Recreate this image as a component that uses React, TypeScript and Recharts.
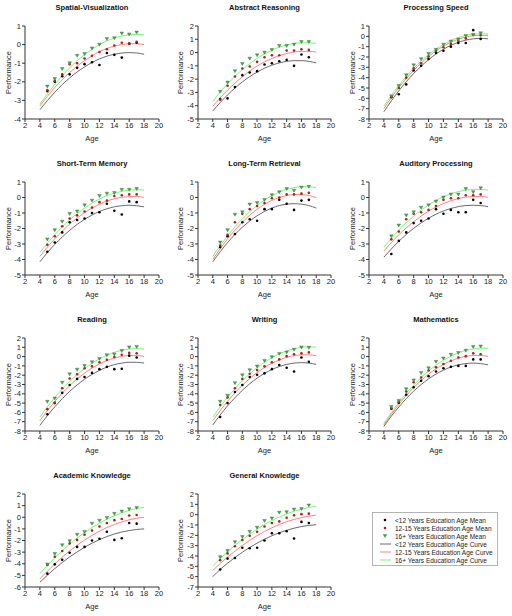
import { ComposedChart, Line, Scatter, XAxis, YAxis } from 'recharts';

// ages at which group means were measured, and where the fitted curves are drawn
const ages = [5, 6, 7, 8, 9, 10, 11, 12, 13, 14, 15, 16, 17];
const curveAges = [4, 5, 6, 7, 8, 9, 10, 11, 12, 13, 14, 15, 16, 17, 18];
const xTicks = [2, 4, 6, 8, 10, 12, 14, 16, 18, 20];

// Spatial-Visualization
const spatialLow = [-2.5, -2.0, -1.7, -1.6, -1.25, -1.05, -0.95, -1.1, -0.45, -0.55, -0.7, 0.05, 0.1];
const spatialMid = [-2.45, -1.95, -1.6, -1.05, -1.0, -0.75, -0.6, -0.4, -0.25, -0.05, 0.1, 0.05, 0.15];
const spatialHigh = [-2.25, -1.85, -1.3, -1.0, -0.6, -0.5, -0.2, 0.0, 0.3, 0.35, 0.6, 0.55, 0.65];
const spatialLowFit = [-3.5, -3.01, -2.56, -2.15, -1.79, -1.47, -1.2, -0.96, -0.77, -0.62, -0.52, -0.45, -0.43, -0.45, -0.52];
const spatialMidFit = [-3.3, -2.79, -2.31, -1.88, -1.5, -1.16, -0.86, -0.6, -0.38, -0.21, -0.08, 0.0, 0.045, 0.045, 0.0];
const spatialHighFit = [-3.2, -2.65, -2.14, -1.67, -1.25, -0.87, -0.54, -0.25, 0.0, 0.2, 0.35, 0.46, 0.53, 0.55, 0.53];

// Abstract Reasoning
const abstractLow = [-3.5, -3.45, -2.6, -1.7, -1.5, -1.4, -0.9, -0.8, -0.65, -0.55, -1.0, -0.15, -0.35];
const abstractMid = [-3.55, -2.5, -1.8, -1.2, -1.05, -0.7, -0.35, -0.2, -0.2, 0.15, 0.15, 0.25, 0.2];
const abstractHigh = [-2.95, -2.25, -1.4, -0.85, -0.45, -0.2, 0.0, 0.2, 0.5, 0.5, 0.6, 0.8, 0.8];
const abstractLowFit = [-4.4, -3.76, -3.19, -2.67, -2.21, -1.81, -1.47, -1.18, -0.95, -0.78, -0.66, -0.61, -0.61, -0.66, -0.78];
const abstractMidFit = [-4.05, -3.41, -2.83, -2.3, -1.82, -1.39, -1.02, -0.7, -0.44, -0.23, -0.07, 0.04, 0.09, 0.09, 0.04];
const abstractHighFit = [-3.7, -2.97, -2.35, -1.79, -1.28, -0.83, -0.44, -0.1, 0.18, 0.41, 0.57, 0.69, 0.74, 0.74, 0.69];

// Processing Speed
const speedLow = [-5.9, -5.6, -4.65, -3.3, -2.85, -2.2, -1.6, -1.4, -1.0, -0.65, -0.65, 0.6, -0.25];
const speedMid = [-5.85, -5.0, -4.0, -3.1, -2.6, -1.95, -1.4, -1.05, -0.75, -0.45, -0.2, 0.15, 0.1];
const speedHigh = [-5.8, -4.8, -3.75, -2.8, -2.2, -1.7, -1.3, -0.8, -0.5, -0.3, 0.05, 0.15, 0.3];
const speedLowFit = [-7.3, -6.25, -5.28, -4.4, -3.6, -2.89, -2.26, -1.71, -1.25, -0.87, -0.58, -0.37, -0.24, -0.2, -0.24];
const speedMidFit = [-7.0, -5.95, -4.98, -4.1, -3.3, -2.59, -1.96, -1.41, -0.95, -0.57, -0.28, -0.07, 0.06, 0.1, 0.06];
const speedHighFit = [-6.75, -5.71, -4.76, -3.89, -3.1, -2.4, -1.78, -1.24, -0.79, -0.41, -0.12, 0.08, 0.21, 0.25, 0.21];

// Short-Term Memory
const shortLow = [-3.5, -2.9, -2.25, -1.6, -1.45, -1.35, -1.0, -0.95, -0.4, -0.85, -1.1, -0.25, -0.3];
const shortMid = [-3.05, -2.5, -1.85, -1.35, -1.15, -0.9, -0.65, -0.3, -0.2, 0.1, 0.15, 0.2, 0.2];
const shortHigh = [-2.7, -2.1, -1.55, -1.05, -0.9, -0.5, -0.2, 0.1, 0.25, 0.3, 0.5, 0.5, 0.55];
const shortLowFit = [-4.15, -3.56, -3.03, -2.55, -2.12, -1.74, -1.41, -1.13, -0.9, -0.73, -0.6, -0.53, -0.5, -0.53, -0.6];
const shortMidFit = [-3.8, -3.21, -2.66, -2.17, -1.72, -1.33, -0.98, -0.68, -0.43, -0.23, -0.08, 0.01, 0.06, 0.06, 0.01];
const shortHighFit = [-3.55, -2.96, -2.4, -1.9, -1.44, -1.04, -0.68, -0.36, -0.1, 0.12, 0.28, 0.4, 0.48, 0.5, 0.48];

// Long-Term Retrieval
const longLow = [-3.2, -2.5, -2.35, -1.6, -1.4, -1.5, -0.75, -0.75, -0.15, -0.4, -0.8, -0.2, -0.15];
const longMid = [-3.1, -2.4, -1.6, -1.05, -0.75, -0.55, -0.35, -0.05, 0.0, 0.2, 0.2, 0.25, 0.3];
const longHigh = [-2.9, -2.1, -1.1, -0.95, -0.45, -0.35, -0.15, 0.15, 0.35, 0.55, 0.45, 0.65, 0.7];
const longLowFit = [-4.15, -3.5, -2.91, -2.38, -1.92, -1.52, -1.18, -0.9, -0.68, -0.52, -0.43, -0.4, -0.43, -0.52, -0.68];
const longMidFit = [-4.0, -3.3, -2.67, -2.1, -1.59, -1.14, -0.76, -0.44, -0.19, 0.0, 0.13, 0.19, 0.19, 0.13, 0.0];
const longHighFit = [-3.8, -3.11, -2.48, -1.9, -1.38, -0.92, -0.52, -0.17, 0.12, 0.35, 0.52, 0.64, 0.69, 0.69, 0.64];

// Auditory Processing
const auditoryLow = [-3.65, -2.8, -2.25, -1.65, -1.5, -1.35, -0.75, -1.05, -0.8, -0.95, -0.95, -0.15, -0.35];
const auditoryMid = [-2.7, -2.2, -1.4, -1.05, -0.95, -0.8, -0.55, -0.15, -0.05, -0.05, 0.15, 0.15, 0.2];
const auditoryHigh = [-2.5, -1.8, -1.15, -0.95, -0.65, -0.5, -0.25, 0.0, 0.2, 0.2, 0.55, 0.35, 0.6];
const auditoryLowFit = [-3.85, -3.32, -2.83, -2.39, -1.99, -1.64, -1.34, -1.08, -0.87, -0.71, -0.59, -0.52, -0.5, -0.52, -0.59];
const auditoryMidFit = [-3.45, -2.91, -2.41, -1.96, -1.56, -1.2, -0.88, -0.61, -0.39, -0.21, -0.07, 0.02, 0.06, 0.06, 0.02];
const auditoryHighFit = [-3.2, -2.63, -2.1, -1.63, -1.2, -0.81, -0.48, -0.19, 0.05, 0.24, 0.38, 0.48, 0.52, 0.52, 0.48];

// Reading
const readingLow = [-6.2, -5.0, -3.9, -3.05, -2.4, -2.2, -1.75, -1.35, -1.1, -1.35, -1.3, 0.1, -0.1];
const readingMid = [-5.65, -4.95, -3.4, -2.35, -1.9, -1.25, -1.05, -0.6, -0.35, -0.05, 0.2, 0.4, 0.35];
const readingHigh = [-4.85, -4.5, -2.8, -1.9, -1.4, -1.0, -0.6, -0.25, 0.15, 0.25, 0.6, 1.0, 1.05];
const readingLowFit = [-7.4, -6.35, -5.4, -4.53, -3.74, -3.05, -2.44, -1.92, -1.48, -1.13, -0.87, -0.7, -0.61, -0.61, -0.7];
const readingMidFit = [-6.9, -5.82, -4.83, -3.93, -3.12, -2.41, -1.78, -1.24, -0.79, -0.43, -0.16, 0.02, 0.11, 0.11, 0.02];
const readingHighFit = [-6.5, -5.41, -4.41, -3.5, -2.67, -1.93, -1.28, -0.72, -0.24, 0.15, 0.46, 0.68, 0.81, 0.85, 0.81];

// Writing
const writingLow = [-6.5, -5.0, -3.8, -3.05, -2.2, -1.95, -1.8, -1.35, -0.9, -1.2, -1.6, -0.1, -0.55];
const writingMid = [-5.2, -4.4, -3.4, -2.4, -1.85, -1.45, -1.05, -0.6, -0.3, 0.05, 0.25, 0.35, 0.45];
const writingHigh = [-4.85, -4.2, -2.85, -2.0, -1.45, -1.05, -0.45, -0.05, 0.3, 0.45, 0.75, 1.0, 0.95];
const writingLowFit = [-7.35, -6.28, -5.3, -4.42, -3.63, -2.93, -2.32, -1.81, -1.39, -1.07, -0.84, -0.7, -0.65, -0.7, -0.84];
const writingMidFit = [-6.9, -5.8, -4.81, -3.9, -3.08, -2.36, -1.72, -1.17, -0.72, -0.36, -0.08, 0.1, 0.19, 0.19, 0.1];
const writingHighFit = [-6.5, -5.4, -4.38, -3.45, -2.61, -1.86, -1.19, -0.61, -0.12, 0.29, 0.61, 0.84, 0.99, 1.05, 1.02];

// Mathematics
const mathLow = [-5.6, -4.95, -4.1, -3.3, -2.6, -2.1, -1.6, -1.25, -1.1, -1.0, -1.0, -0.3, -0.3];
const mathMid = [-5.55, -4.85, -3.75, -2.75, -2.25, -1.5, -1.15, -0.8, -0.45, -0.1, 0.05, 0.35, 0.25];
const mathHigh = [-5.4, -4.75, -3.5, -2.55, -1.75, -1.25, -0.55, -0.2, 0.2, 0.4, 0.65, 1.05, 1.1];
const mathLowFit = [-7.5, -6.41, -5.42, -4.52, -3.72, -3.01, -2.4, -1.88, -1.46, -1.12, -0.89, -0.75, -0.7, -0.75, -0.89];
const mathMidFit = [-7.35, -6.2, -5.15, -4.19, -3.33, -2.56, -1.89, -1.32, -0.84, -0.46, -0.17, 0.02, 0.12, 0.12, 0.02];
const mathHighFit = [-7.2, -6.03, -4.95, -3.96, -3.06, -2.26, -1.54, -0.92, -0.39, 0.05, 0.4, 0.66, 0.82, 0.9, 0.88];

// Academic Knowledge
const academicLow = [-4.85, -4.05, -3.65, -3.05, -2.55, -2.55, -2.0, -1.85, -1.25, -1.95, -1.8, -0.5, -0.55];
const academicMid = [-4.1, -3.4, -2.9, -2.25, -1.95, -1.5, -1.15, -0.8, -0.5, -0.25, -0.15, 0.15, 0.2];
const academicHigh = [-4.05, -3.15, -2.4, -2.05, -1.5, -1.25, -0.55, -0.3, -0.05, 0.3, 0.5, 0.7, 0.8];
const academicLowFit = [-5.6, -4.99, -4.42, -3.9, -3.41, -2.98, -2.58, -2.23, -1.93, -1.66, -1.44, -1.27, -1.14, -1.05, -1.0];
const academicMidFit = [-5.3, -4.64, -4.01, -3.43, -2.9, -2.41, -1.96, -1.56, -1.2, -0.89, -0.62, -0.4, -0.22, -0.09, 0.0];
const academicHighFit = [-4.85, -4.15, -3.49, -2.88, -2.32, -1.79, -1.32, -0.89, -0.5, -0.16, 0.13, 0.38, 0.59, 0.75, 0.86];

// General Knowledge
const generalLow = [-5.3, -4.25, -4.2, -3.2, -3.25, -3.2, -2.5, -1.8, -1.8, -1.6, -2.3, -0.7, -0.8];
const generalMid = [-4.4, -3.75, -3.05, -2.45, -2.05, -1.65, -1.15, -0.8, -0.65, -0.3, -0.05, 0.05, 0.1];
const generalHigh = [-4.1, -3.5, -2.65, -2.15, -1.65, -1.25, -0.6, -0.35, 0.2, 0.25, 0.5, 0.55, 0.9];
const generalLowFit = [-6.0, -5.3, -4.7, -4.15, -3.64, -3.17, -2.75, -2.37, -2.04, -1.75, -1.51, -1.31, -1.15, -1.04, -0.97];
const generalMidFit = [-5.4, -4.73, -4.1, -3.52, -2.98, -2.48, -2.03, -1.63, -1.27, -0.95, -0.68, -0.46, -0.28, -0.14, -0.05];
const generalHighFit = [-4.95, -4.25, -3.59, -2.97, -2.4, -1.87, -1.39, -0.95, -0.57, -0.22, 0.08, 0.33, 0.53, 0.69, 0.81];

const panels = [
  { title: 'Spatial-Visualization', yMin: -4, yMax: 1, low: spatialLow, mid: spatialMid, high: spatialHigh, lowFit: spatialLowFit, midFit: spatialMidFit, highFit: spatialHighFit },
  { title: 'Abstract Reasoning', yMin: -5, yMax: 2, low: abstractLow, mid: abstractMid, high: abstractHigh, lowFit: abstractLowFit, midFit: abstractMidFit, highFit: abstractHighFit },
  { title: 'Processing Speed', yMin: -8, yMax: 1, low: speedLow, mid: speedMid, high: speedHigh, lowFit: speedLowFit, midFit: speedMidFit, highFit: speedHighFit },
  { title: 'Short-Term Memory', yMin: -5, yMax: 1, low: shortLow, mid: shortMid, high: shortHigh, lowFit: shortLowFit, midFit: shortMidFit, highFit: shortHighFit },
  { title: 'Long-Term Retrieval', yMin: -5, yMax: 1, low: longLow, mid: longMid, high: longHigh, lowFit: longLowFit, midFit: longMidFit, highFit: longHighFit },
  { title: 'Auditory Processing', yMin: -5, yMax: 1, low: auditoryLow, mid: auditoryMid, high: auditoryHigh, lowFit: auditoryLowFit, midFit: auditoryMidFit, highFit: auditoryHighFit },
  { title: 'Reading', yMin: -8, yMax: 2, low: readingLow, mid: readingMid, high: readingHigh, lowFit: readingLowFit, midFit: readingMidFit, highFit: readingHighFit },
  { title: 'Writing', yMin: -8, yMax: 2, low: writingLow, mid: writingMid, high: writingHigh, lowFit: writingLowFit, midFit: writingMidFit, highFit: writingHighFit },
  { title: 'Mathematics', yMin: -8, yMax: 2, low: mathLow, mid: mathMid, high: mathHigh, lowFit: mathLowFit, midFit: mathMidFit, highFit: mathHighFit },
  { title: 'Academic Knowledge', yMin: -6, yMax: 2, low: academicLow, mid: academicMid, high: academicHigh, lowFit: academicLowFit, midFit: academicMidFit, highFit: academicHighFit },
  { title: 'General Knowledge', yMin: -7, yMax: 2, low: generalLow, mid: generalMid, high: generalHigh, lowFit: generalLowFit, midFit: generalMidFit, highFit: generalHighFit },
];

const legendLabels = [
  '<12 Years Education Age Mean',
  '12-15 Years Education Age Mean',
  '16+ Years Education Age Mean',
  '<12 Years Education Age Curve',
  '12-15 Years Education Age Curve',
  '16+ Years Education Age Curve',
];

const FONT = 'Arial, "Liberation Sans", Helvetica, sans-serif';
const TEXT = '#222';
const DOT_LOW = '#000000';
const DOT_MID = '#b81a1a';
const DOT_HIGH = '#45a845';
const CURVE_LOW = '#5a5a5a';
const CURVE_MID = '#ff7474';
const CURVE_HIGH = '#6cf06c';

// grid layout (px)
const colLeft = [0, 170, 337];
const colWidth = [170, 170, 175];
const yAxisW = [25, 28, 32];
const rightGap = [11, 9, 9];
const perfX = [8, 10, 15];
const rowTop = [0, 156, 312, 468];
const CHART_H = 148;
const TOP_GAP = 26;
const X_AXIS_H = 29;

const toPoints = (xs: number[], ys: number[]) => xs.map((age, i) => ({ age, y: ys[i] }));

const range = (a: number, b: number) => {
  const out: number[] = [];
  for (let v = a; v <= b; v++) out.push(v);
  return out;
};

const BlackDot = (p: any) => <circle cx={p.cx} cy={p.cy} r={1.3} fill={DOT_LOW} />;
const RedDot = (p: any) => <circle cx={p.cx} cy={p.cy} r={1.3} fill={DOT_MID} />;
const GreenTri = (p: any) => (
  <path
    d={`M${p.cx - 1.8},${p.cy - 1.4} L${p.cx + 1.8},${p.cy - 1.4} L${p.cx},${p.cy + 1.6} Z`}
    fill={DOT_HIGH}
    stroke="#2e7a2e"
    strokeWidth={0.4}
  />
);

function Panel({ p, idx }: { p: (typeof panels)[number]; idx: number }) {
  const col = idx % 3;
  const row = Math.floor(idx / 3);
  const w = colWidth[col];
  const plotLeft = yAxisW[col];
  const plotW = w - plotLeft - rightGap[col];
  const yTicks = range(p.yMin, p.yMax);
  const px = perfX[col];

  const perfLabel = ({ viewBox }: any) => {
    const cy = viewBox.y + viewBox.height / 2;
    return (
      <text x={px} y={cy} transform={`rotate(-90 ${px} ${cy})`} textAnchor="middle" dominantBaseline="central" fontSize={7.5} fill={TEXT} fontFamily={FONT}>
        Performance
      </text>
    );
  };
  const ageLabel = ({ viewBox }: any) => (
    <text x={viewBox.x + viewBox.width / 2} y={viewBox.y + 19} textAnchor="middle" dominantBaseline="central" fontSize={7.5} fill={TEXT} fontFamily={FONT}>
      Age
    </text>
  );

  return (
    <div style={{ position: 'absolute', left: colLeft[col], top: rowTop[row], width: w, height: CHART_H }}>
      <div
        style={{
          position: 'absolute',
          left: plotLeft,
          width: plotW,
          top: TOP_GAP - 23,
          lineHeight: '10px',
          textAlign: 'center',
          fontFamily: FONT,
          fontWeight: 'bold',
          fontSize: 7.5,
          color: '#111',
          whiteSpace: 'nowrap',
        }}
      >
        {p.title}
      </div>
      <ComposedChart width={w} height={CHART_H} margin={{ top: TOP_GAP, right: rightGap[col], bottom: 0, left: 0 }}>
        <XAxis
          type="number"
          dataKey="age"
          domain={[2, 20]}
          ticks={xTicks}
          interval={0}
          height={X_AXIS_H}
          tickSize={3}
          tickMargin={1}
          stroke="#333"
          tick={{ fontSize: 7.5, fill: TEXT, fontFamily: FONT }}
          label={{ content: ageLabel }}
        />
        <XAxis xAxisId="top" orientation="top" type="number" dataKey="age" domain={[2, 20]} height={0} tick={false} tickLine={false} stroke="#c4c4c4" />
        <YAxis
          type="number"
          domain={[p.yMin, p.yMax]}
          ticks={yTicks}
          interval={0}
          width={plotLeft}
          tickSize={3}
          tickMargin={1}
          stroke="#333"
          tick={{ fontSize: 7.5, fill: TEXT, fontFamily: FONT }}
          label={{ content: perfLabel }}
        />
        <YAxis yAxisId="right" orientation="right" type="number" domain={[p.yMin, p.yMax]} width={0} tick={false} tickLine={false} stroke="#c4c4c4" />
        <Line data={toPoints(curveAges, p.lowFit)} dataKey="y" type="monotone" stroke={CURVE_LOW} strokeWidth={0.9} dot={false} activeDot={false} isAnimationActive={false} />
        <Line data={toPoints(curveAges, p.midFit)} dataKey="y" type="monotone" stroke={CURVE_MID} strokeWidth={0.9} dot={false} activeDot={false} isAnimationActive={false} />
        <Line data={toPoints(curveAges, p.highFit)} dataKey="y" type="monotone" stroke={CURVE_HIGH} strokeWidth={0.9} dot={false} activeDot={false} isAnimationActive={false} />
        <Scatter data={toPoints(ages, p.low)} dataKey="y" shape={BlackDot} isAnimationActive={false} />
        <Scatter data={toPoints(ages, p.mid)} dataKey="y" shape={RedDot} isAnimationActive={false} />
        <Scatter data={toPoints(ages, p.high)} dataKey="y" shape={GreenTri} isAnimationActive={false} />
      </ComposedChart>
    </div>
  );
}

function LegendBox() {
  const rowY = (i: number) => 7 + i * 8;
  return (
    <div style={{ position: 'absolute', left: 372, top: 512, width: 126, height: 54, border: '1px solid #b4b4b4', boxSizing: 'border-box', background: '#fff' }}>
      <svg width={124} height={52}>
        <BlackDot cx={12} cy={rowY(0)} />
        <RedDot cx={12} cy={rowY(1)} />
        <GreenTri cx={12} cy={rowY(2)} />
        <line x1={7} x2={18} y1={rowY(3)} y2={rowY(3)} stroke={CURVE_LOW} strokeWidth={0.9} />
        <line x1={7} x2={18} y1={rowY(4)} y2={rowY(4)} stroke={CURVE_MID} strokeWidth={0.9} />
        <line x1={7} x2={18} y1={rowY(5)} y2={rowY(5)} stroke={CURVE_HIGH} strokeWidth={0.9} />
        {legendLabels.map((t, i) => (
          <text key={t} x={22} y={rowY(i)} dominantBaseline="central" fontSize={6.5} fill={TEXT} fontFamily={FONT}>
            {t}
          </text>
        ))}
      </svg>
    </div>
  );
}

export default function App() {
  return (
    <div style={{ position: 'absolute', left: 0, top: 0, width: 512, height: 616, background: '#fff', overflow: 'hidden' }}>
      {panels.map((p, i) => (
        <Panel key={p.title} p={p} idx={i} />
      ))}
      <LegendBox />
    </div>
  );
}
